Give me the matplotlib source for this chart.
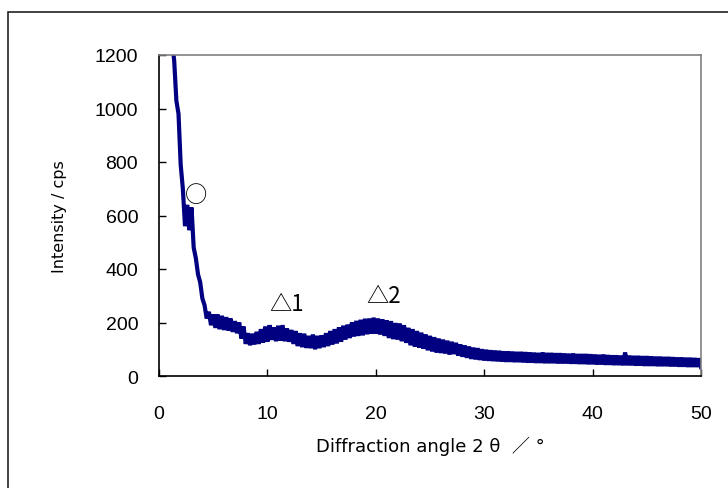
import numpy as np
import matplotlib
matplotlib.use("Agg")
import matplotlib.pyplot as plt
from matplotlib.patches import Rectangle

plt.rcParams["font.family"] = ["Liberation Sans", "DejaVu Sans"]

# Data, 2theta from 1.2 to 50.0 deg every 0.2 deg
two_theta_start = 1.2
two_theta_step = 0.2
intensity = [
    1250, 1180, 1030, 980, 790,
    700, 560, 640, 545, 630,
    480, 440, 380, 350, 290,
    265, 215, 240, 190, 230,
    180, 230, 175, 225, 172,
    220, 170, 215, 165, 205,
    160, 200, 140, 185, 120,
    160, 115, 158, 118, 165,
    120, 175, 125, 185, 128,
    190, 135, 182, 130, 188,
    132, 190, 130, 178, 128,
    172, 120, 168, 112, 160,
    108, 158, 105, 150, 104,
    155, 100, 150, 104, 152,
    108, 160, 112, 168, 118,
    175, 122, 182, 128, 188,
    136, 192, 142, 200, 148,
    206, 150, 210, 152, 214,
    156, 215, 158, 218, 158,
    215, 155, 212, 150, 208,
    142, 205, 138, 198, 136,
    196, 130, 190, 124, 180,
    115, 175, 110, 168, 106,
    162, 102, 155, 96, 150,
    92, 145, 88, 140, 86,
    136, 84, 132, 80, 128,
    82, 124, 76, 118, 72,
    114, 68, 110, 64, 106,
    62, 104, 60, 100, 58,
    98, 57, 96, 56, 95,
    55, 94, 54, 92, 53,
    92, 53, 91, 52, 90,
    52, 90, 51, 89, 50,
    88, 50, 87, 49, 86,
    49, 88, 48, 86, 48,
    86, 48, 85, 47, 85,
    47, 84, 47, 83, 46,
    84, 46, 82, 45, 82,
    45, 82, 44, 81, 44,
    80, 43, 79, 43, 80,
    42, 78, 42, 77, 41,
    77, 41, 76, 40, 88,
    40, 76, 40, 75, 39,
    75, 39, 74, 38, 74,
    38, 73, 38, 72, 37,
    72, 37, 71, 37, 71,
    36, 70, 36, 69, 35,
    69, 35, 68, 34, 68,
    34, 67, 34, 66, 33,
]
two_theta = np.round(two_theta_start + two_theta_step * np.arange(len(intensity)), 1)

x_ticks = [0, 10, 20, 30, 40, 50]
y_ticks = [0, 200, 400, 600, 800, 1000, 1200]

annotations = [("○", 3.37, 677), ("△1", 11.8, 270), ("△2", 20.75, 301)]

label_font = ["DejaVu Sans", "Noto Sans CJK JP"]
mark_font = ["Noto Sans CJK JP", "DejaVu Sans"]

fig = plt.figure(figsize=(7.28, 4.89), dpi=100)
ax = fig.add_axes([159 / 728, 1 - 377 / 489, (701 - 159) / 728, (377 - 56) / 489])

ax.plot(two_theta, intensity, color="#000080", lw=3.0, solid_joinstyle="bevel")

ax.set_xlim(0, 50)
ax.set_ylim(0, 1200)
ax.set_xticks(x_ticks)
ax.set_yticks(y_ticks)
ax.tick_params(direction="in", length=5, width=1, labelsize=14)
ax.tick_params(axis="x", pad=21)
ax.tick_params(axis="y", pad=15)

for s in ["left", "bottom"]:
    ax.spines[s].set_color("black")
    ax.spines[s].set_linewidth(1.2)
for s in ["top", "right"]:
    ax.spines[s].set_color("#808080")
    ax.spines[s].set_linewidth(1.2)

ax.set_xlabel("Diffraction angle 2 θ  ／ °", family=label_font, fontsize=13, labelpad=10)
ax.set_ylabel("Intensity / cps", family=label_font, fontsize=11.5, labelpad=20)

for txt, xx, yy in annotations:
    ax.text(xx, yy, txt, family=mark_font, fontsize=16, ha="center", va="center")

fig.patches.append(Rectangle((8 / 728, -0.1), 1.2, 1 - 13 / 489 + 0.1,
                             transform=fig.transFigure, fill=False,
                             edgecolor="#222222", lw=1.2))

fig.savefig("out.png", dpi=100)
